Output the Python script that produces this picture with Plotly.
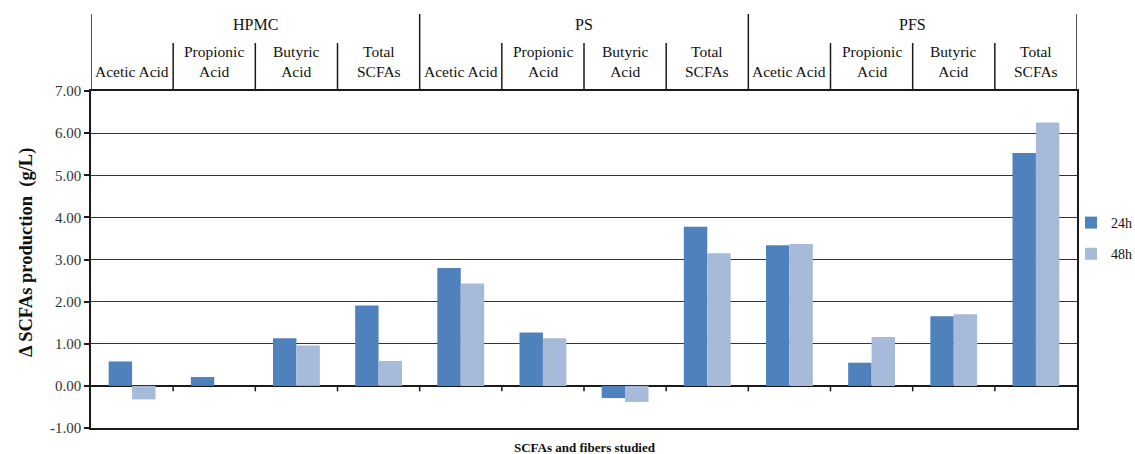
import plotly.graph_objects as go

groups = ["HPMC", "PS", "PFS"]
acids = ["Acetic Acid", "Propionic<br>Acid", "Butyric<br>Acid", "Total<br>SCFAs"]
series_names = ["24h", "48h"]
values_24h = [0.58, 0.21, 1.13, 1.91,
              2.80, 1.27, -0.29, 3.78,
              3.34, 0.55, 1.65, 5.53]
values_48h = [-0.32, 0.00, 0.96, 0.59,
              2.43, 1.13, -0.38, 3.15,
              3.37, 1.16, 1.70, 6.25]
y_ticks = [-1, 0, 1, 2, 3, 4, 5, 6, 7]
y_ticktext = ["-1.00", "0.00", "1.00", "2.00", "3.00", "4.00", "5.00", "6.00", "7.00"]
y_title = "Δ SCFAs production  (g/L)"
x_title = "SCFAs and fibers studied"

FONT = "Liberation Serif"
W, H = 1135, 454
L, R, T, B = 91, 58, 91, 26
plot_h = H - T - B

def py(p):  # pixel y -> paper y
    return (H - B - p) / plot_h

def px(p):  # pixel x -> paper x
    return (p - L) / (W - L - R)

n_cat = len(groups) * len(acids)
xs = list(range(n_cat))

fig = go.Figure()
fig.add_trace(go.Bar(x=xs, y=values_24h, name=series_names[0], marker_color="#4F81BD",
                     marker_line_width=0, legendgroup="a"))
fig.add_trace(go.Bar(x=xs, y=values_48h, name=series_names[1], marker_color="#A8BAD9",
                     marker_line_width=0, legendgroup="b"))

shapes = []
annotations = []
line_col = "#1a1a1a"
for g in range(len(groups) + 1):
    xb = g * len(acids) - 0.5
    shapes.append(dict(type="line", xref="x", yref="paper", x0=xb, x1=xb,
                       y0=1, y1=py(14), line=dict(color=line_col, width=1.5)))
for g, gname in enumerate(groups):
    annotations.append(dict(text=gname, xref="x", yref="paper",
                            x=g * len(acids) + (len(acids) - 1) / 2, y=py(25),
                            xanchor="center", yanchor="middle",
                            showarrow=False, font=dict(family=FONT, size=16, color="#111")))
    for a, aname in enumerate(acids):
        idx = g * len(acids) + a
        annotations.append(dict(text=aname, xref="x", yref="paper", x=idx, y=py(82),
                                xanchor="center", yanchor="bottom", showarrow=False,
                                font=dict(family=FONT, size=15.5, color="#111")))
        if a > 0:
            xb = idx - 0.5
            shapes.append(dict(type="line", xref="x", yref="paper", x0=xb, x1=xb,
                               y0=1, y1=py(43), line=dict(color=line_col, width=1.5)))
for i in range(n_cat - 1):
    shapes.append(dict(type="line", xref="x", yref="y", x0=i + 0.5, x1=i + 0.5,
                       y0=0, y1=-0.13, line=dict(color=line_col, width=1.5)))

annotations.append(dict(text="<b>%s</b>" % y_title, xref="paper", yref="paper",
                        x=px(27), y=py(253), xanchor="center", yanchor="middle",
                        textangle=-90, showarrow=False,
                        font=dict(family=FONT, size=18.5, color="#111")))
annotations.append(dict(text="<b>%s</b>" % x_title, xref="paper", yref="paper",
                        x=px(585), y=py(447), xanchor="center", yanchor="middle",
                        showarrow=False,
                        font=dict(family=FONT, size=13, color="#111")))

fig.update_layout(
    width=W, height=H,
    margin=dict(l=L, r=R, t=T, b=B, pad=0, autoexpand=False),
    paper_bgcolor="white", plot_bgcolor="white",
    barmode="group", bargap=0.43, bargroupgap=0,
    font=dict(family=FONT, size=14, color="#222"),
    showlegend=True,
    legend=dict(x=px(1071), y=py(207), xanchor="left", yanchor="top",
                tracegroupgap=10, font=dict(family=FONT, size=14, color="#111"),
                bgcolor="rgba(0,0,0,0)", itemwidth=30),
    xaxis=dict(range=[-0.5, n_cat - 0.5], showticklabels=False, showgrid=False,
               zeroline=False, showline=True, mirror=True, linecolor=line_col,
               linewidth=1.5, ticks=""),
    yaxis=dict(range=[y_ticks[0], y_ticks[-1]], tickvals=y_ticks, ticktext=y_ticktext,
               showgrid=True, gridcolor="#333333", gridwidth=1.4,
               zeroline=True, zerolinecolor=line_col, zerolinewidth=1.5,
               showline=True, mirror=True, linecolor=line_col, linewidth=1.5,
               ticks="outside", ticklen=5, tickcolor=line_col, tickwidth=1.5,
               tickfont=dict(family=FONT, size=15, color="#333")),
    shapes=shapes, annotations=annotations,
)

fig.write_html("out.html", config={"displayModeBar": False},
               post_script="document.body.style.margin='0';document.body.style.overflow='hidden';")
